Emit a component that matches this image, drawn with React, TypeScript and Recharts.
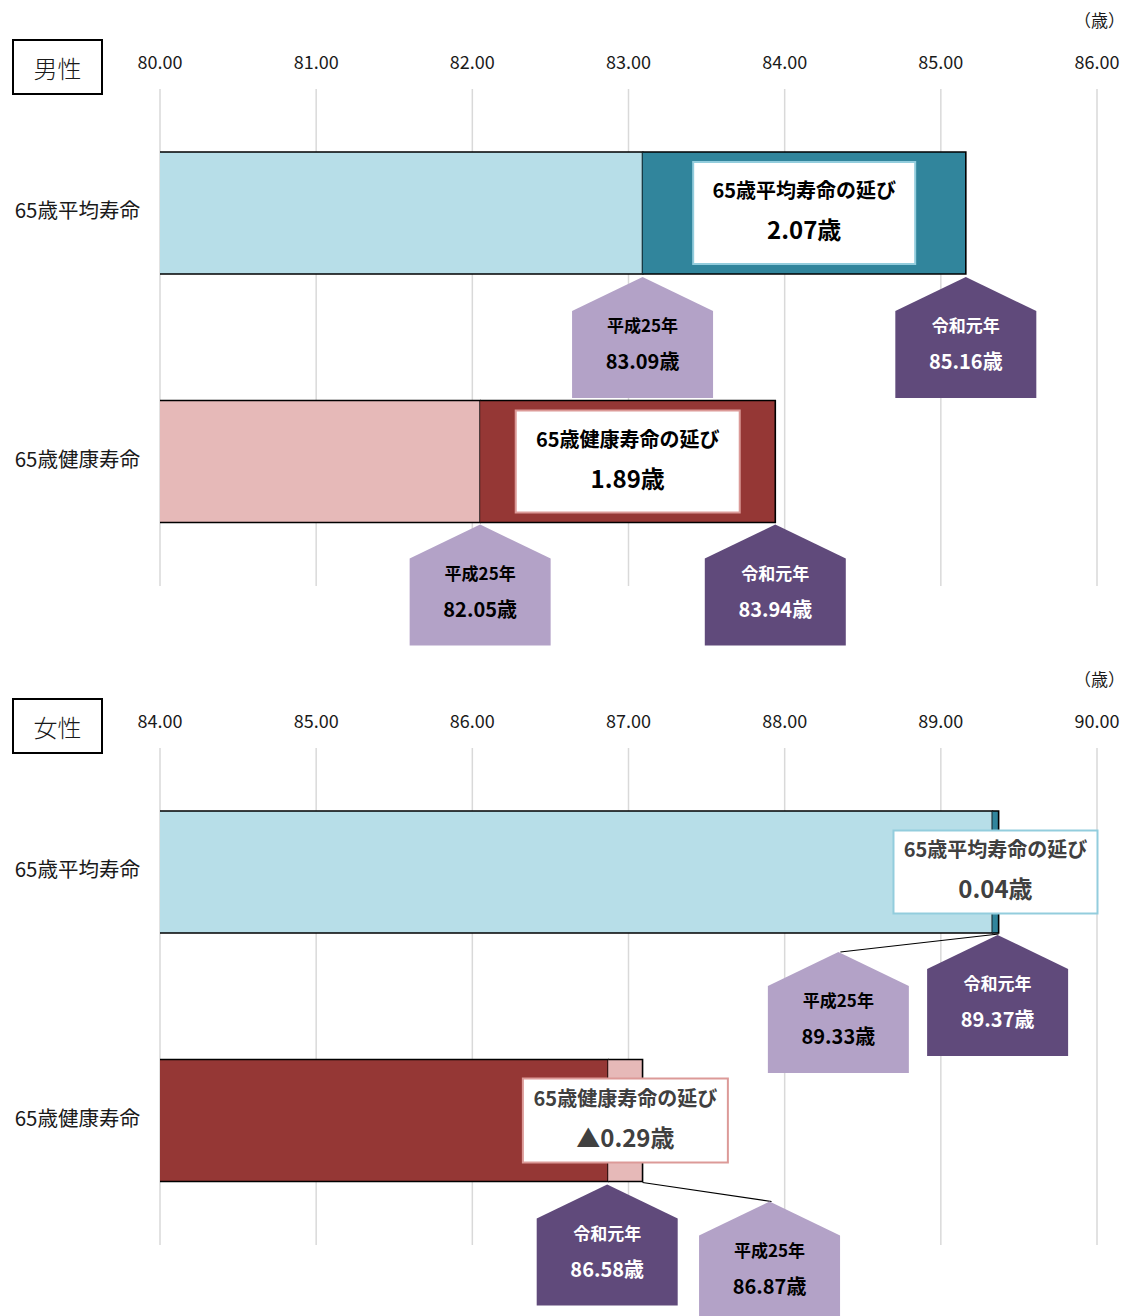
import React from 'react';
import { BarChart, Bar, XAxis, YAxis, CartesianGrid } from 'recharts';

const FONT = '"Noto Sans CJK JP", "Noto Sans", sans-serif';

// ---------- data ----------
const categories = ['65歳平均寿命', '65歳健康寿命'];

const maleTicks = [80, 81, 82, 83, 84, 85, 86];
const maleH25 = [83.09, 82.05]; // 平成25年
const maleR1 = [85.16, 83.94]; // 令和元年
const maleBarInner = [83.09, 82.05];
const maleBarOuter = [85.16, 83.94];

const femaleTicks = [84, 85, 86, 87, 88, 89, 90];
const femaleH25 = [89.33, 86.87];
const femaleR1 = [89.37, 86.58];
const femaleBarInner = [89.33, 86.87];
const femaleBarOuter = [89.37, 87.09];

const eraNames: Record<string, string> = { h25: '平成25年', r1: '令和元年' };

function buildRows(inner: number[], outer: number[], h25: number[], r1: number[]) {
  return categories.map((c, i) => ({ category: c, inner: inner[i], outer: outer[i], h25: h25[i], r1: r1[i] }));
}

const maleRows = buildRows(maleBarInner, maleBarOuter, maleH25, maleR1);
const femaleRows = buildRows(femaleBarInner, femaleBarOuter, femaleH25, femaleR1);

// ---------- styles ----------
const LIGHT_BLUE = '#b7dee8';
const TEAL = '#31859c';
const PINK = '#e6b9b8';
const DARK_RED = '#953735';
const LIGHT_PURPLE = '#b3a2c7';
const DARK_PURPLE = '#604a7b';

const maleStyle = {
  innerColors: [LIGHT_BLUE, PINK],
  diffColors: [TEAL, DARK_RED],
  boxBorders: ['#93cddd', '#dc9a98'],
  boxText: '#000000',
  box: [{ w: 222, h: 102 }, { w: 224, h: 102 }],
  callouts: [
    { inner: { era: 'h25', dx: 0, dy: 3, line: false }, outer: { era: 'r1', dx: 0, dy: 3, line: false } },
    { inner: { era: 'h25', dx: 0, dy: 2, line: false }, outer: { era: 'r1', dx: 0, dy: 2, line: false } },
  ],
};

const femaleStyle = {
  innerColors: [LIGHT_BLUE, DARK_RED],
  diffColors: [TEAL, PINK],
  boxBorders: ['#93cddd', '#dc9a98'],
  boxText: '#404040',
  box: [{ w: 204, h: 83 }, { w: 205, h: 84 }],
  callouts: [
    { inner: { era: 'h25', dx: -154, dy: 19, line: true }, outer: { era: 'r1', dx: -1, dy: 2, line: false } },
    { inner: { era: 'r1', dx: -1, dy: 3, line: false }, outer: { era: 'h25', dx: 127, dy: 20, line: true } },
  ],
};

// ---------- shapes ----------
function Pentagon({ cx, ay, era, value }: { cx: number; ay: number; era: string; value: number }) {
  const hw = 70.5;
  const dark = era === 'r1';
  const fill = dark ? DARK_PURPLE : LIGHT_PURPLE;
  const color = dark ? '#ffffff' : '#000000';
  const pts = `${cx},${ay} ${cx + hw},${ay + 34} ${cx + hw},${ay + 121} ${cx - hw},${ay + 121} ${cx - hw},${ay + 34}`;
  return (
    <g>
      <polygon points={pts} fill={fill} stroke="none" />
      <text x={cx} y={ay + 55} textAnchor="middle" fontSize={17} fontWeight={700} fill={color} style={{ fontFamily: FONT }}>
        {eraNames[era]}
      </text>
      <text x={cx} y={ay + 92} textAnchor="middle" fontSize={20} fontWeight={700} fill={color} style={{ fontFamily: FONT }}>
        {value.toFixed(2) + '歳'}
      </text>
    </g>
  );
}

function segment(x: number, y: number, w: number, h: number, fill: string) {
  return (
    <g>
      <rect x={x} y={y} width={Math.max(w, 0)} height={h} fill={fill} />
      <path d={`M${x},${y} H${x + w} V${y + h} H${x}`} fill="none" stroke="#000000" strokeWidth={1.6} />
    </g>
  );
}

function makeInnerShape(style: any) {
  return (props: any) => {
    const { x, y, width, height, index } = props;
    return segment(x, y, width, height, style.innerColors[index]);
  };
}

function formatDiff(d: number) {
  const r = Math.round(d * 100) / 100;
  return (r < 0 ? '▲' : '') + Math.abs(r).toFixed(2) + '歳';
}

function makeDiffShape(style: any) {
  return (props: any) => {
    const { x, y, width, height, index, payload } = props;
    const row = payload;
    const innerX = x;
    const outerX = x + width;
    const bottom = y + height;
    const co = style.callouts[index];
    const bx = style.box[index];
    const cxBox = x + width / 2;
    const cyBox = y + height / 2;
    const pieces: any[] = [];
    const addCallout = (c: any, anchorX: number, key: string) => {
      const cx = anchorX + c.dx;
      const ay = bottom + c.dy;
      if (c.line) {
        pieces.push(<line key={key + 'l'} x1={outerX} y1={bottom + 1} x2={cx + 2} y2={ay} stroke="#000000" strokeWidth={1.2} />);
      }
      pieces.push(<Pentagon key={key} cx={cx} ay={ay} era={c.era} value={row[c.era]} />);
    };
    addCallout(co.inner, innerX, 'pi');
    addCallout(co.outer, outerX, 'po');
    return (
      <g>
        {segment(x, y, width, height, style.diffColors[index])}
        {pieces}
        <rect x={cxBox - bx.w / 2} y={cyBox - bx.h / 2} width={bx.w} height={bx.h} fill="#ffffff" stroke={style.boxBorders[index]} strokeWidth={2} />
        <text x={cxBox} y={cyBox - 15} textAnchor="middle" fontSize={20} fontWeight={700} fill={style.boxText} style={{ fontFamily: FONT }}>
          {row.category + 'の延び'}
        </text>
        <text x={cxBox} y={cyBox + 26} textAnchor="middle" fontSize={24} fontWeight={700} fill={style.boxText} style={{ fontFamily: FONT }}>
          {formatDiff(row.r1 - row.h25)}
        </text>
      </g>
    );
  };
}

const XTick = (props: any) => {
  const { x, y, payload } = props;
  return (
    <text x={x} y={y - 20} textAnchor="middle" fontSize={18} fill="#1a1a1a" style={{ fontFamily: FONT }}>
      {Number(payload.value).toFixed(2)}
    </text>
  );
};

const YTick = (props: any) => {
  const { x, y, payload } = props;
  return (
    <text x={x} y={y + 5} textAnchor="end" fontSize={20.5} fill="#1a1a1a" style={{ fontFamily: FONT }}>
      {payload.value}
    </text>
  );
};

function Panel({ rows, ticks, style, height, bottom }: any) {
  return (
    <BarChart
      width={1126}
      height={height}
      data={rows}
      layout="vertical"
      margin={{ top: 0, right: 29, bottom, left: 0 }}
      barSize={122}
      barGap={-122}
      barCategoryGap={0}
    >
      <CartesianGrid horizontal={false} stroke="#d9d9d9" strokeWidth={1.5} />
      <XAxis
        type="number"
        orientation="top"
        domain={[ticks[0], ticks[ticks.length - 1]]}
        ticks={ticks}
        interval={0}
        height={89}
        axisLine={false}
        tickLine={false}
        tickSize={0}
        tickMargin={0}
        tick={<XTick />}
      />
      <YAxis
        type="category"
        dataKey="category"
        width={160}
        axisLine={false}
        tickLine={false}
        tickSize={0}
        tickMargin={20}
        tick={<YTick />}
      />
      <Bar dataKey="inner" isAnimationActive={false} shape={makeInnerShape(style)} />
      <Bar dataKey={(d: any) => [d.inner, d.outer]} isAnimationActive={false} shape={makeDiffShape(style)} />
    </BarChart>
  );
}

function SexBox({ top, label }: { top: number; label: string }) {
  return (
    <div
      style={{
        position: 'absolute',
        left: 12,
        top,
        width: 91,
        height: 56,
        boxSizing: 'border-box',
        border: '2px solid #000',
        display: 'flex',
        alignItems: 'center',
        justifyContent: 'center',
        fontFamily: FONT,
        fontSize: 24,
        fontWeight: 300,
        color: '#1a1a1a',
        background: '#fff',
      }}
    >
      {label}
    </div>
  );
}

function Unit({ top }: { top: number }) {
  return (
    <div style={{ position: 'absolute', right: 1, top, fontFamily: FONT, fontSize: 17, color: '#1a1a1a', lineHeight: '24px', whiteSpace: 'nowrap' }}>
      （歳）
    </div>
  );
}

export default function App() {
  return (
    <div style={{ position: 'absolute', left: 0, top: 0, width: 1126, height: 1316, background: '#fff', fontFamily: FONT, overflow: 'hidden' }}>
      <div style={{ position: 'absolute', left: 0, top: 0 }}>
        <Panel rows={maleRows} ticks={maleTicks} style={maleStyle} height={659} bottom={73} />
      </div>
      <div style={{ position: 'absolute', left: 0, top: 659 }}>
        <Panel rows={femaleRows} ticks={femaleTicks} style={femaleStyle} height={657} bottom={71} />
      </div>
      <SexBox top={39} label="男性" />
      <SexBox top={698} label="女性" />
      <Unit top={8} />
      <Unit top={667} />
    </div>
  );
}
